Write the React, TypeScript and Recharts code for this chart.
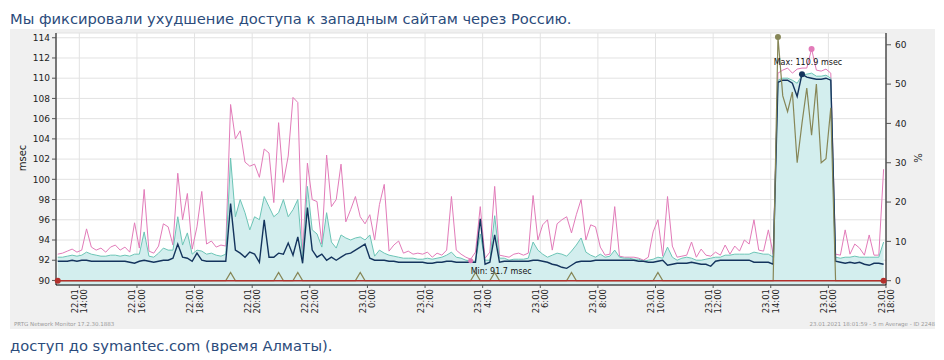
import React from 'react';
import {
  ComposedChart, Line, Area, XAxis, YAxis, CartesianGrid, ReferenceDot, ReferenceLine,
} from 'recharts';

// 5-minute-average sensor, sampled here every 10 minutes, starting 22.01 13:15
const START_HOUR = 13.25;
const STEP_HOURS = 1 / 6;

// Maximum ping time, msec (pink)
const pinkMax = [
  92.6, 92.7, 92.9, 93.1, 92.8, 93.0, 95.1, 93.3, 93.0, 93.2,
  92.8, 93.3, 93.5, 93.0, 93.3, 92.8, 95.7, 93.2, 99.0, 92.9,
  92.7, 93.4, 95.6, 95.3, 93.5, 100.6, 96.0, 98.6, 93.1, 95.3,
  98.8, 93.6, 93.9, 93.3, 93.5, 93.4, 107.4, 104.0, 104.8, 101.7,
  101.3, 101.5, 100.2, 103.0, 102.6, 97.7, 105.6, 99.7, 102.3, 108.1,
  107.6, 92.5, 101.6, 98.0, 97.8, 93.6, 102.4, 97.3, 98.0, 101.5,
  95.8, 97.0, 98.3, 96.3, 95.6, 96.5, 94.0, 97.5, 99.5, 92.9,
  93.5, 93.9, 92.7, 92.9, 92.6, 92.7, 92.6, 92.8, 92.3, 92.7,
  92.5, 93.0, 98.3, 93.0, 92.6, 92.3, 92.1, 92.8, 97.3, 92.2,
  92.8, 99.3, 92.5, 92.4, 92.3, 92.6, 92.7, 92.5, 92.7, 98.4,
  94.0, 95.5, 96.0, 93.0, 95.6, 96.0, 96.3, 94.7, 96.5, 98.0,
  94.0, 95.5, 95.3, 93.3, 92.5, 92.6, 97.3, 92.4, 92.3, 92.3,
  92.3, 92.2, 92.0, 92.3, 94.8, 96.0, 92.4, 98.3, 93.4, 92.3,
  92.4, 92.5, 93.8, 92.3, 93.1, 92.5, 92.4, 92.8, 92.5, 93.5,
  92.6, 93.4, 92.9, 94.0, 93.6, 96.0, 93.0, 92.9, 95.0, 92.6,
  110.5, 110.8, 111.0, 110.5, 110.9, 111.0, 111.0, 112.9, 110.8, 110.7,
  110.9, 110.5, 92.6, 92.5, 95.0, 92.6, 93.6, 93.2, 92.5, 94.5,
  92.5, 92.5, 101.0,
];

// Ping time, msec (teal, filled)
const tealPing = [
  92.3, 92.3, 92.4, 92.5, 92.4, 92.5, 92.8, 92.6, 92.5, 92.4,
  92.4, 92.5, 92.5, 92.4, 92.5, 92.4, 92.6, 92.6, 94.8, 92.4,
  92.3, 92.7, 93.2, 93.0, 93.0, 96.3, 93.5, 94.7, 92.6, 93.0,
  92.9, 92.6, 92.7, 92.5, 92.4, 92.6, 102.1, 96.3, 98.0, 96.7,
  95.0, 96.3, 96.0, 98.3, 97.3, 96.3, 96.7, 98.0, 96.3, 97.0,
  98.0, 92.2, 99.3, 95.0, 94.6, 93.3, 96.7, 93.8, 93.2, 94.5,
  94.2, 94.0, 94.2, 94.3, 94.0, 94.5, 92.4, 93.0, 92.7, 92.5,
  92.4, 92.3, 92.2, 92.2, 92.2, 92.1, 92.1, 92.2, 92.1, 92.2,
  92.3, 92.5, 92.8, 92.3, 92.2, 92.0, 91.9, 91.9, 94.6, 92.0,
  92.0, 96.4, 92.2, 92.2, 92.0, 92.1, 92.1, 92.1, 92.2, 93.8,
  93.0, 92.6, 92.3, 92.5, 92.7, 92.6, 92.4, 92.9, 93.5, 94.2,
  92.8, 92.5, 92.3, 92.6, 92.3, 92.4, 93.0, 92.3, 92.2, 92.2,
  92.1, 92.1, 91.9, 92.0, 92.1, 92.3, 92.2, 93.3, 92.3, 92.0,
  92.2, 92.3, 92.2, 92.0, 92.0, 92.1, 92.2, 92.3, 92.3, 92.5,
  92.5, 92.6, 92.6, 92.6, 92.6, 92.8, 92.7, 92.6, 92.6, 92.3,
  109.8, 110.0, 110.0, 109.8, 109.5, 110.3, 110.4, 110.5, 110.2, 110.2,
  110.3, 110.0, 92.3, 92.2, 92.3, 92.3, 92.4, 92.3, 92.3, 92.3,
  92.3, 92.3, 93.8,
];

// Minimum ping time, msec (navy)
const navyMin = [
  91.9, 91.9, 91.9, 92.0, 91.9, 92.0, 92.0, 91.9, 91.9, 91.9,
  91.9, 91.9, 91.9, 91.9, 91.9, 91.8, 91.7, 91.9, 92.0, 91.9,
  91.8, 91.9, 92.0, 92.0, 92.2, 93.6, 92.3, 92.2, 91.9, 92.7,
  92.0, 91.9, 91.9, 91.9, 91.9, 91.9, 97.6, 93.0, 92.7, 92.3,
  92.8, 92.6, 91.8, 96.0, 92.3, 92.3, 92.7, 92.6, 93.7, 92.5,
  94.3, 91.7, 97.2, 93.0, 92.3, 92.6, 92.0, 92.3, 92.0, 92.3,
  92.6, 92.7, 93.0, 93.3, 93.6, 92.2, 92.0, 92.0, 92.0, 91.9,
  91.9, 91.8, 91.8, 91.8, 91.8, 91.8, 91.8, 91.7, 91.7, 91.8,
  91.8, 91.9, 91.9, 91.8, 91.8, 91.8, 91.8, 91.8, 96.1, 91.6,
  91.8, 94.5, 91.8, 91.9, 91.9, 91.9, 91.9, 91.9, 91.9, 92.0,
  92.0, 91.9, 91.8, 91.6, 91.5, 91.3, 91.2, 91.5, 91.8, 91.9,
  91.9, 91.9, 92.0, 92.0, 92.0, 92.0, 92.0, 92.0, 92.0, 92.0,
  92.0, 91.9, 91.9, 91.8, 91.8, 91.9, 92.0, 91.5, 91.6, 91.7,
  91.7, 91.7, 91.8, 91.7, 91.6, 91.6, 91.4, 91.9, 92.0, 92.0,
  92.0, 92.0, 92.0, 92.0, 92.0, 91.8, 91.8, 91.8, 91.8, 91.6,
  109.6, 109.8, 109.8, 109.5, 108.2, 110.4, 110.1, 110.0, 109.9, 109.9,
  110.0, 109.8, 91.9, 91.8, 91.7, 91.8, 91.7, 91.8, 91.6, 91.5,
  91.7, 91.7, 91.6,
];

// Packet loss, % (olive, right axis)
const lossPct = [
  0, 0, 0, 0, 0, 0, 0, 0, 0, 0,
  0, 0, 0, 0, 0, 0, 0, 0, 0, 0,
  0, 0, 0, 0, 0, 0, 0, 0, 0, 0,
  0, 0, 0, 0, 0, 0, 2.1, 0, 0, 0,
  0, 0, 0, 0, 0, 0, 2.1, 0, 0, 0,
  2.1, 0, 0, 0, 0, 0, 0, 0, 0, 0,
  0, 0, 0, 2.1, 0, 0, 0, 0, 0, 0,
  0, 0, 0, 0, 0, 0, 0, 0, 0, 0,
  0, 0, 0, 0, 0, 0, 0, 2.1, 0, 0,
  0, 2.1, 0, 0, 0, 0, 0, 0, 0, 0,
  0, 0, 0, 0, 0, 0, 0, 2.1, 0, 0,
  0, 0, 0, 0, 0, 0, 0, 0, 0, 0,
  0, 0, 0, 0, 0, 2.1, 0, 0, 0, 0,
  0, 0, 0, 0, 0, 0, 0, 0, 0, 0,
  0, 0, 0, 0, 0, 0, 0, 0, 0, 0,
  62, 47, 43, 48, 30, 40, 49, 37, 50, 30,
  31, 44, 0, 0, 0, 0, 0, 0, 0, 0,
  0, 0, 0,
];

const tickHours = [14, 16, 18, 20, 22, 24, 26, 28, 30, 32, 34, 36, 38, 40, 42];
const tickDates = ['22.01', '22.01', '22.01', '22.01', '22.01', '23.01', '23.01', '23.01',
  '23.01', '23.01', '23.01', '23.01', '23.01', '23.01', '23.01'];
const tickTimes = ['14:00', '16:00', '18:00', '20:00', '22:00', '0:00', '2:00', '4:00',
  '6:00', '8:00', '10:00', '12:00', '14:00', '16:00', '18:00'];
const leftTicks = [90, 92, 94, 96, 98, 100, 102, 104, 106, 108, 110, 112, 114];
const rightTicks = [0, 10, 20, 30, 40, 50, 60];

const titleText = 'Мы фиксировали ухудшение доступа к западным сайтам через Россию.';
const captionText = 'доступ до symantec.com (время Алматы).';
const footerLeft = 'PRTG Network Monitor 17.2.30.1883';
const footerRight = '23.01.2021 18:01:59 - 5 m Average - ID 2248';
const maxLabel = 'Max: 110.9 msec';
const minLabel = 'Min: 91.7 msec';

const times = pinkMax.map((_, i) => START_HOUR + i * STEP_HOURS);
const data = pinkMax.map((p, i) => ({
  t: times[i], pink: p, teal: tealPing[i], navy: navyMin[i], loss: lossPct[i],
}));

const PINK = '#e27bb9';
const TEAL = '#6cc5b6';
const FILL = '#d3eeee';
const NAVY = '#14345d';
const OLIVE = '#868657';
const RED = '#b3302c';

const renderXTick = (props: any) => {
  const { x, y, payload } = props;
  const k = tickHours.indexOf(payload.value);
  return (
    <g transform={`translate(${x},${y})`}>
      <text transform="rotate(-90)" textAnchor="end" fontSize={8.5} fill="#222">
        <tspan x={1} y={-1.5}>{tickDates[k]}</tspan>
        <tspan x={1} y={8}>{tickTimes[k]}</tspan>
      </text>
    </g>
  );
};

const renderMax = (props: any) => {
  const vb = props.viewBox || {};
  const cx = (vb.x || 0) + (vb.width || 0) / 2;
  const cy = (vb.y || 0) + (vb.height || 0) / 2;
  return (
    <text x={cx + 6} y={cy - 9} textAnchor="middle" fontSize={8} fill="#111">{maxLabel}</text>
  );
};

const renderMin = (props: any) => {
  const vb = props.viewBox || {};
  const cx = (vb.x || 0) + (vb.width || 0) / 2;
  const cy = (vb.y || 0) + (vb.height || 0) / 2;
  return (
    <text x={cx} y={cy + 13} textAnchor="start" fontSize={8} fill="#111">{minLabel}</text>
  );
};

export default function App() {
  const last = times.length - 1;
  return (
    <div style={{
      position: 'absolute', left: 0, top: 0, width: 944, height: 360, background: '#fff',
      fontFamily: '"DejaVu Sans", sans-serif', overflow: 'hidden',
    }}>
      <div style={{
        position: 'absolute', left: 10, top: 10, fontSize: 14.7, lineHeight: '17px',
        color: '#2b4b7b', whiteSpace: 'nowrap',
      }}>{titleText}</div>
      <div style={{ position: 'absolute', left: 10, top: 29, width: 925, height: 300, background: '#f0f0f0' }} />
      <div style={{ position: 'absolute', left: 0, top: 0 }}>
        <ComposedChart width={944} height={360} data={data}
          margin={{ top: 33, right: 28, bottom: 35, left: 16 }}>
          <CartesianGrid yAxisId="left" stroke="#e2e2e2" fill="#ffffff" strokeWidth={1} />
          <XAxis dataKey="t" type="number" domain={[13.19, 42]} ticks={tickHours} interval={0}
            allowDataOverflow tick={renderXTick} tickSize={3} height={40}
            axisLine={{ stroke: '#000' }} tickLine={{ stroke: '#555' }} />
          <XAxis xAxisId="top" dataKey="t" type="number" domain={[13.19, 42]} orientation="top"
            height={0} tick={false} tickLine={false} axisLine={{ stroke: '#000' }} />
          <YAxis yAxisId="left" domain={[89.55, 114.47]} ticks={leftTicks} interval={0}
            allowDataOverflow width={40} tickSize={4} tickMargin={2}
            tick={{ fontSize: 9, fill: '#222' }} axisLine={{ stroke: '#000' }} tickLine={{ stroke: '#555' }} />
          <YAxis yAxisId="right" orientation="right" domain={[-1.1, 63]} ticks={rightTicks} interval={0}
            allowDataOverflow width={30} tickSize={5} tickMargin={4}
            tick={{ fontSize: 9, fill: '#222' }} axisLine={{ stroke: '#000' }} tickLine={{ stroke: '#555' }} />
          <Area yAxisId="left" type="linear" dataKey="teal" baseValue="dataMin" stroke="none"
            fill={FILL} fillOpacity={1} isAnimationActive={false} dot={false} activeDot={false} />
          <Line yAxisId="left" type="linear" dataKey="pink" stroke={PINK} strokeWidth={1}
            dot={false} activeDot={false} isAnimationActive={false} />
          <Line yAxisId="left" type="linear" dataKey="teal" stroke={TEAL} strokeWidth={1}
            dot={false} activeDot={false} isAnimationActive={false} />
          <Line yAxisId="left" type="linear" dataKey="navy" stroke={NAVY} strokeWidth={1.4}
            dot={false} activeDot={false} isAnimationActive={false} />
          <Line yAxisId="right" type="linear" dataKey="loss" stroke={OLIVE} strokeWidth={1.2}
            dot={false} activeDot={false} isAnimationActive={false} />
          <ReferenceLine yAxisId="right" stroke={RED} strokeWidth={1.5}
            segment={[{ x: times[0], y: 0 }, { x: times[last], y: 0 }]} />
          <ReferenceDot yAxisId="right" x={times[0]} y={0} r={3} fill={RED} stroke="none" />
          <ReferenceDot yAxisId="right" x={times[last]} y={0} r={3} fill={RED} stroke="none" />
          <ReferenceDot yAxisId="right" x={times[150]} y={62} r={3} fill={OLIVE} stroke="none" />
          <ReferenceDot yAxisId="left" x={times[157]} y={112.9} r={3} fill={PINK} stroke="none" />
          <ReferenceDot yAxisId="left" x={times[155]} y={110.4} r={3} fill={NAVY} stroke="none" label={renderMax} />
          <ReferenceDot yAxisId="left" x={times[86]} y={91.95} r={2.5} fill={PINK} stroke="none" label={renderMin} />
        </ComposedChart>
      </div>
      <div style={{
        position: 'absolute', left: 22, top: 158, transform: 'translate(-50%,-50%) rotate(-90deg)',
        fontSize: 10, color: '#222', whiteSpace: 'nowrap',
      }}>msec</div>
      <div style={{
        position: 'absolute', left: 918, top: 158, transform: 'translate(-50%,-50%) rotate(-90deg)',
        fontSize: 10, color: '#222', whiteSpace: 'nowrap',
      }}>%</div>
      <div style={{
        position: 'absolute', left: 14, top: 321, fontSize: 5.5, lineHeight: '7px', color: '#9a9a9a', whiteSpace: 'nowrap',
      }}>{footerLeft}</div>
      <div style={{
        position: 'absolute', right: 9, top: 321, fontSize: 5.5, lineHeight: '7px', color: '#9a9a9a', whiteSpace: 'nowrap',
      }}>{footerRight}</div>
      <div style={{
        position: 'absolute', left: 10, top: 337, fontSize: 14.7, lineHeight: '17px',
        color: '#2b4b7b', whiteSpace: 'nowrap',
      }}>{captionText}</div>
    </div>
  );
}
